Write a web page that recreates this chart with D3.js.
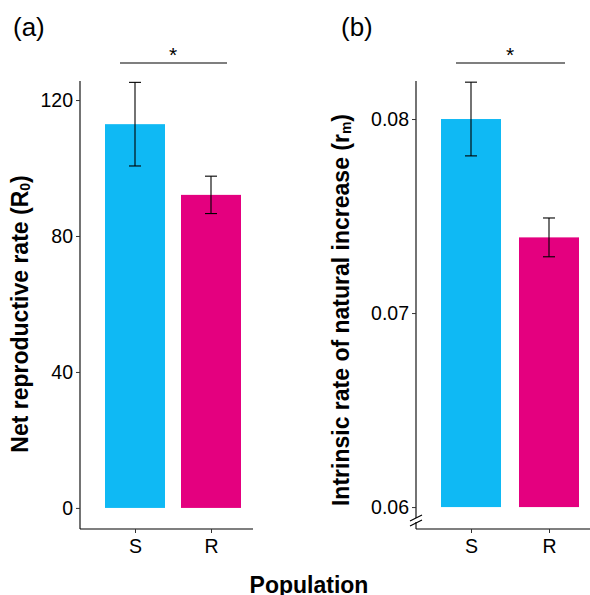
<!DOCTYPE html>
<meta charset="utf-8">
<script src="https://d3js.org/d3.v7.min.js"></script>
<style>
  body { margin: 0; background: #fff; }
  svg text { font-family: "Liberation Sans", Arial, sans-serif; }
</style>
<body>
<svg id="chart" width="590" height="595"></svg>
<script>
// data
const populations = ["S", "R"];
const colours = ["#0fb9f4", "#e4007f"];
const r0Mean = [112.9, 92.1];
const r0Err = [12.3, 5.5];
const rmMean = [0.0800, 0.0739];
const rmErr = [0.0019, 0.0010];
const r0Ticks = [0, 40, 80, 120];
const rmTicks = [0.06, 0.07, 0.08];

const svg = d3.select("#chart");

// one panel = bars + error bars + axes + bracket
function drawPanel(opt) {
  const g = svg.append("g");
  const y = d3.scaleLinear().domain(opt.yDomain).range([529, 81]);
  const x = d3.scalePoint().domain(populations).range(opt.xRange);
  const bw = 60;

  // bars
  g.selectAll("rect.bar")
    .data(populations)
    .join("rect")
      .attr("x", d => x(d) - bw / 2)
      .attr("width", bw)
      .attr("y", (d, i) => y(opt.mean[i]))
      .attr("height", (d, i) => y(opt.base) - y(opt.mean[i]))
      .attr("fill", (d, i) => colours[i]);

  // error bars
  const eb = g.selectAll("g.err").data(populations).join("g");
  eb.append("line")
    .attr("x1", d => x(d)).attr("x2", d => x(d))
    .attr("y1", (d, i) => y(opt.mean[i] + opt.err[i]))
    .attr("y2", (d, i) => y(opt.mean[i] - opt.err[i]))
    .attr("stroke", "#000").attr("stroke-width", 1.1);
  [1, -1].forEach(s => {
    eb.append("line")
      .attr("x1", d => x(d) - 6).attr("x2", d => x(d) + 6)
      .attr("y1", (d, i) => y(opt.mean[i] + s * opt.err[i]))
      .attr("y2", (d, i) => y(opt.mean[i] + s * opt.err[i]))
      .attr("stroke", "#000").attr("stroke-width", 1.1);
  });

  // y axis
  const yAxis = g.append("g")
    .attr("transform", `translate(${opt.x0},0)`)
    .call(d3.axisLeft(y).tickValues(opt.ticks).tickSize(4).tickPadding(3).tickFormat(opt.fmt));
  yAxis.select(".domain").attr("stroke", "#000").attr("stroke-width", 1.1).attr("d", `M0,81V529`);
  yAxis.selectAll(".tick line").attr("stroke", "#333");
  yAxis.selectAll(".tick text").attr("font-size", 19.5).attr("fill", "#000");

  // x axis
  const xAxis = g.append("g")
    .attr("transform", "translate(0,529)")
    .call(d3.axisBottom(x).tickSize(4).tickPadding(6));
  xAxis.select(".domain").attr("stroke", "#000").attr("stroke-width", 1.1)
    .attr("d", `M${opt.x0},0H${opt.x1}`);
  xAxis.selectAll(".tick line").attr("stroke", "#333");
  xAxis.selectAll(".tick text").attr("font-size", 19.5).attr("fill", "#000");

  // significance bracket
  g.append("line")
    .attr("x1", x("S") - 15).attr("x2", x("R") + 16)
    .attr("y1", 63).attr("y2", 63)
    .attr("stroke", "#000").attr("stroke-width", 1.1);
  g.append("text")
    .attr("x", (x("S") + x("R")) / 2).attr("y", 62)
    .attr("text-anchor", "middle").attr("font-size", 21)
    .text("*");

  // panel letter
  g.append("text")
    .attr("x", opt.letterX).attr("y", 36)
    .attr("font-size", 26)
    .text(opt.letter);

  // y title
  const t = g.append("text")
    .attr("transform", `translate(${opt.titleX},${opt.titleY}) rotate(-90)`)
    .attr("text-anchor", "middle")
    .attr("font-size", 23).attr("font-weight", "bold");
  t.append("tspan").text(opt.title[0]);
  t.append("tspan").attr("font-size", 14).attr("dy", 2).text(opt.title[1]);
  t.append("tspan").attr("dy", -2).text(")");

  return { g, y };
}

drawPanel({
  yDomain: [-6.2, 125.6], base: 0, xRange: [135, 211], x0: 80, x1: 253,
  mean: r0Mean, err: r0Err, ticks: r0Ticks, fmt: d3.format("d"),
  letter: "(a)", letterX: 13,
  title: ["Net reproductive rate (R", "0"], titleX: 28, titleY: 314
});

const pb = drawPanel({
  yDomain: [0.05887, 0.08196], base: 0.06, xRange: [471, 549], x0: 416, x1: 590,
  mean: rmMean, err: rmErr, ticks: rmTicks, fmt: d3.format(".2f"),
  letter: "(b)", letterX: 341,
  title: ["Intrinsic rate of natural increase (r", "m"], titleX: 349, titleY: 310
});

// axis break marks on panel b
pb.g.append("rect").attr("x", 413).attr("y", 518).attr("width", 7).attr("height", 4).attr("fill", "#fff");
[[410, 521, 422, 515], [410, 526, 422, 520]].forEach(([a, b, c, d]) => {
  pb.g.append("line").attr("x1", a).attr("y1", b).attr("x2", c).attr("y2", d)
    .attr("stroke", "#000").attr("stroke-width", 1.1);
});

// shared x title
svg.append("text")
  .attr("x", 309).attr("y", 593)
  .attr("text-anchor", "middle")
  .attr("font-size", 23).attr("font-weight", "bold")
  .text("Population");
</script>
</body>
